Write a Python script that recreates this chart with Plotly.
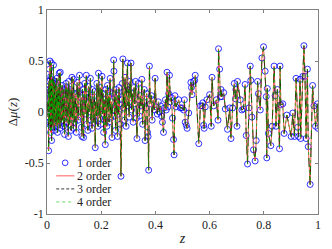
import plotly.graph_objects as go

# ---- data ----
z_low = [0.003, 0.004, 0.005, 0.0055, 0.006, 0.0065, 0.007, 0.0075, 0.008, 0.0085, 0.009, 0.0095,
         0.010, 0.0105, 0.011, 0.0115, 0.012, 0.0125, 0.013, 0.0135, 0.014, 0.0145, 0.015, 0.0155,
         0.016, 0.0165, 0.017, 0.0175, 0.018, 0.0185, 0.019, 0.0195, 0.020, 0.021, 0.022, 0.023,
         0.024, 0.025, 0.026, 0.027, 0.028, 0.029, 0.030, 0.031, 0.032, 0.033, 0.034, 0.035, 0.036,
         0.037, 0.038, 0.039, 0.040, 0.041, 0.042, 0.043, 0.044, 0.045, 0.046, 0.047, 0.048, 0.049,
         0.050, 0.052, 0.053, 0.055, 0.056, 0.058, 0.059, 0.061, 0.062, 0.064, 0.065, 0.067, 0.068,
         0.070, 0.071, 0.073, 0.074, 0.076, 0.077, 0.079, 0.080, 0.082, 0.083, 0.085, 0.086, 0.088,
         0.089, 0.091, 0.092, 0.094, 0.095, 0.097, 0.098, 0.100]
dmu_low = [0.10, -0.05, 0.22, 0.00, -0.38, 0.18, 0.30, -0.10, 0.05, 0.26, 0.42, -0.02,
           -0.12, 0.20, 0.50, 0.08, 0.15, 0.32, -0.20, 0.12, 0.35, -0.08, 0.02, 0.24,
           0.48, -0.15, -0.28, 0.16, 0.25, 0.04, -0.08, 0.28, 0.32, 0.10, -0.15, 0.28,
           0.46, -0.02, 0.18, -0.18, 0.30, 0.08, -0.10, 0.22, 0.00, 0.27, -0.14, 0.15, 0.33,
           -0.06, 0.12, -0.20, 0.24, 0.05, 0.20, -0.12, 0.18, 0.38, -0.04, 0.14, -0.16, 0.39,
           0.02, 0.20, -0.10, 0.12, 0.26, -0.08, 0.16, -0.14, 0.22, 0.04, -0.22, 0.18, -0.15,
           0.28, 0.06, -0.10, 0.24, 0.10, -0.05, -0.24, 0.30, 0.08, -0.12, 0.22, 0.02, 0.16,
           -0.18, 0.20, 0.34, -0.06, 0.12, -0.16, 0.32, 0.05]

z_mid = [0.102, 0.104, 0.106, 0.108, 0.111, 0.113, 0.115, 0.117, 0.120, 0.121, 0.123, 0.125,
         0.127, 0.129, 0.131, 0.133, 0.135, 0.137, 0.139, 0.141, 0.143, 0.145, 0.147, 0.149,
         0.151, 0.153, 0.155, 0.157, 0.160, 0.162, 0.164, 0.166, 0.168, 0.170, 0.172, 0.175,
         0.178, 0.180, 0.182, 0.184, 0.186, 0.188, 0.190, 0.192, 0.194, 0.196, 0.198, 0.200,
         0.203, 0.205, 0.207, 0.209, 0.211, 0.213, 0.215, 0.217, 0.219, 0.221, 0.223, 0.225,
         0.227, 0.229, 0.231, 0.233, 0.235, 0.237, 0.240, 0.242, 0.244, 0.246, 0.247, 0.249,
         0.251, 0.253, 0.255, 0.257, 0.260, 0.262, 0.264, 0.266, 0.268, 0.270, 0.273, 0.275,
         0.278, 0.280, 0.282, 0.284, 0.286, 0.288, 0.290, 0.292, 0.294, 0.297, 0.299, 0.301,
         0.303, 0.306, 0.308, 0.310, 0.312, 0.315, 0.318, 0.321, 0.324, 0.327, 0.330, 0.332,
         0.335, 0.338, 0.341, 0.344, 0.347, 0.350, 0.353, 0.356, 0.359, 0.362, 0.365, 0.368,
         0.371, 0.373, 0.375, 0.378, 0.381, 0.385, 0.388, 0.392, 0.396, 0.399, 0.403, 0.407,
         0.411, 0.415, 0.419, 0.423, 0.426, 0.430, 0.433, 0.437, 0.440, 0.443, 0.446, 0.449,
         0.452, 0.455, 0.459, 0.463, 0.467, 0.469, 0.472, 0.476]
dmu_mid = [-0.10, 0.18, 0.02, -0.20, 0.29, 0.10, -0.08, 0.20, 0.36, 0.26, -0.05, 0.14,
           -0.15, -0.24, 0.22, 0.05, -0.25, 0.12, 0.28, -0.02, 0.18, 0.36, -0.12, 0.08,
           -0.18, 0.25, 0.00, 0.15, 0.33, -0.08, 0.12, -0.16, 0.22, 0.06, -0.10, 0.20,
           -0.35, 0.10, -0.04, 0.28, 0.02, -0.14, 0.38, 0.14, -0.06, 0.24, -0.12, 0.08,
           0.35, -0.02, 0.18, -0.20, 0.12, -0.08, -0.32, 0.22, 0.04, -0.14, 0.26, 0.00,
           0.16, -0.10, 0.20, 0.33, -0.06, 0.10, -0.25, 0.18, 0.02, 0.51, 0.40, -0.04,
           0.14, -0.18, 0.22, 0.06, -0.24, 0.16, -0.02, 0.24, 0.08, -0.12, -0.63, 0.12,
           0.28, 0.52, 0.04, 0.20, -0.08, 0.34, 0.10, -0.14, 0.26, 0.48, 0.06, 0.22,
           -0.05, 0.30, 0.14, 0.48, 0.02, 0.18, -0.10, 0.24, 0.08, 0.30, -0.06, -0.26,
           0.12, 0.28, -0.04, 0.16, 0.06, 0.32, -0.12, 0.10, 0.22, -0.28, 0.04, 0.18,
           -0.20, -0.24, -0.57, 0.45, 0.08, 0.16, -0.08, 0.12, 0.02, 0.33, 0.05, -0.02,
           0.10, 0.00, 0.06, -0.04, -0.10, -0.20, 0.04, 0.12, 0.02, 0.39, 0.05, 0.18,
           0.36, 0.10, 0.14, -0.06, -0.27, -0.42, 0.16, 0.05]

z_high = [0.486, 0.492, 0.498, 0.504, 0.507, 0.510, 0.514, 0.517, 0.523, 0.531, 0.533, 0.535,
          0.541, 0.545, 0.547, 0.560, 0.566, 0.572, 0.575, 0.578, 0.580, 0.584, 0.590, 0.600,
          0.606, 0.609, 0.615, 0.625, 0.631, 0.633, 0.637, 0.640, 0.642, 0.645, 0.652, 0.658,
          0.666, 0.674, 0.679, 0.685, 0.691, 0.695, 0.697, 0.701, 0.703, 0.713, 0.719, 0.725,
          0.731, 0.735, 0.740, 0.745, 0.750, 0.752, 0.756, 0.762, 0.768, 0.772, 0.777, 0.780,
          0.787, 0.793, 0.799, 0.805, 0.809, 0.811, 0.813, 0.817, 0.826, 0.831, 0.838, 0.842,
          0.845, 0.850, 0.858, 0.860, 0.863, 0.870, 0.875, 0.885, 0.901, 0.907, 0.913, 0.919,
          0.925, 0.928, 0.934, 0.936, 0.944, 0.948, 0.952, 0.956, 0.961, 0.964, 0.971, 0.980,
          0.985, 0.991, 0.998, 1.000]
dmu_high = [0.12, 0.04, 0.04, 0.02, 0.12, -0.10, -0.13, -0.16, -0.01, 0.29, 0.24, 0.17,
            0.30, 0.31, 0.36, -0.31, 0.06, 0.06, 0.09, -0.13, -0.16, 0.05, 0.12, 0.17,
            -0.14, 0.34, 0.06, 0.12, -0.08, 0.62, 0.42, 0.15, 0.22, 0.15, 0.19, 0.03,
            -0.17, 0.04, -0.26, 0.04, 0.28, 0.13, 0.22, -0.14, 0.30, 0.12, 0.02, 0.03,
            0.27, -0.23, -0.51, 0.04, 0.45, 0.31, -0.05, -0.37, -0.48, -0.28, 0.30, 0.18,
            0.02, 0.53, 0.64, 0.40, 0.15, -0.45, 0.23, -0.21, -0.33, -0.14, 0.45, 0.16,
            -0.14, 0.22, -0.36, 0.45, 0.07, 0.08, -0.21, -0.03, -0.24, -0.01, -0.24, 0.33,
            -0.15, -0.24, 0.32, -0.26, 0.35, 0.65, 0.35, -0.26, 0.42, -0.34, -0.71, 0.26,
            0.06, -0.14, 0.08, -0.16]

z = z_low + z_mid + z_high
dmu_order1 = dmu_low + dmu_mid + dmu_high
dmu_order2 = dmu_order1
dmu_order3 = dmu_order1
dmu_order4 = dmu_order1

x_ticks = [0, 0.2, 0.4, 0.6, 0.8, 1]
x_tick_labels = ["0", "0.2", "0.4", "0.6", "0.8", "1"]
y_ticks = [-1, -0.5, 0, 0.5, 1]
y_tick_labels = ["-1", "-0.5", "0", "0.5", "1"]
series_names = ["1 order", "2 order", "3 order", "4 order"]

FONT = "Liberation Serif, Times New Roman, serif"
BLUE, RED, BLACK, GREEN = "#0000ff", "#ff3030", "#000000", "#00b000"

fig = go.Figure()
fig.add_trace(go.Scatter(x=z, y=dmu_order1, mode="markers", name=series_names[0],
                         marker=dict(symbol="circle-open", size=6, color=BLUE,
                                     line=dict(width=0.8, color=BLUE))))
fig.add_trace(go.Scatter(x=z, y=dmu_order2, mode="lines", name=series_names[1],
                         line=dict(color=RED, width=0.8)))
fig.add_trace(go.Scatter(x=z, y=dmu_order3, mode="lines", name=series_names[2],
                         line=dict(color=BLACK, width=0.7, dash="dash")))
fig.add_trace(go.Scatter(x=z, y=dmu_order4, mode="lines", name=series_names[3],
                         line=dict(color=GREEN, width=0.7, dash="dot")))

# compact legend (MATLAB style), drawn in paper coordinates
leg_rows = [0.251, 0.187, 0.123, 0.059]
leg_styles = [None, dict(color=RED, width=0.8), dict(color=BLACK, width=0.8, dash="3px,2px"),
              dict(color="#40d040", width=0.8, dash="dot")]
shapes, annotations = [], []
for name, yrow, sty in zip(series_names, leg_rows, leg_styles):
    if sty is None:
        shapes.append(dict(type="circle", xref="paper", yref="paper",
                           x0=0.067 - 0.0105, x1=0.067 + 0.0105, y0=yrow - 0.014, y1=yrow + 0.014,
                           line=dict(color=BLUE, width=0.8)))
    else:
        shapes.append(dict(type="line", xref="paper", yref="paper", x0=0.034, x1=0.101,
                           y0=yrow, y1=yrow, line=sty))
    annotations.append(dict(text=name, xref="paper", yref="paper", x=0.104, y=yrow,
                            xanchor="left", yanchor="middle", showarrow=False,
                            font=dict(family=FONT, size=12, color="#222")))

axis_common = dict(showgrid=False, zeroline=False, showline=True, linecolor="#808080",
                   linewidth=0.8, mirror="ticks", ticks="inside", ticklen=3,
                   tickcolor="#808080", automargin=False,
                   tickfont=dict(family=FONT, size=12, color="#222"))

fig.update_layout(
    width=332, height=249,
    margin=dict(l=47, r=14, t=10, b=35),
    paper_bgcolor="white", plot_bgcolor="white",
    font=dict(family=FONT, size=12, color="#222"),
    xaxis=dict(range=[0, 1], tickvals=x_ticks, ticktext=x_tick_labels,
               title=dict(text="<i>z</i>", font=dict(family=FONT, size=14), standoff=1),
               **axis_common),
    yaxis=dict(range=[-1, 1], tickvals=y_ticks, ticktext=y_tick_labels,
               title=dict(text="Δ<i>μ</i>(<i>z</i>)", font=dict(family=FONT, size=13), standoff=4),
               **axis_common),
    shapes=shapes, annotations=annotations,
    showlegend=False,
)

fig.write_html("out.html", config={"displayModeBar": False},
               post_script="document.body.style.margin='0';document.body.style.padding='0';")
